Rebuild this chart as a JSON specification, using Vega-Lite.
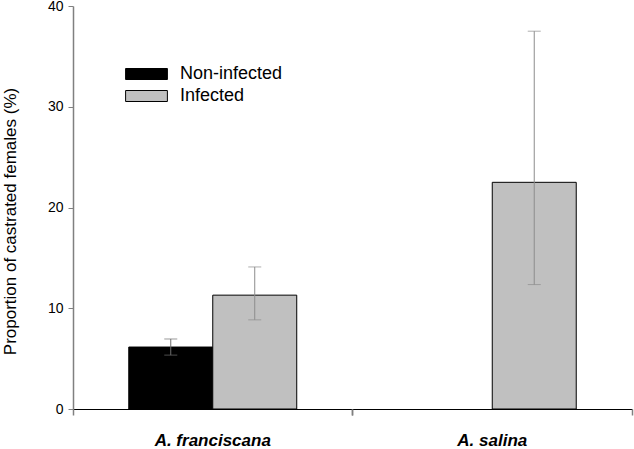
{
  "$schema": "https://vega.github.io/schema/vega-lite/v6.json",
  "width": 559,
  "height": 403,
  "autosize": {"type": "none"},
  "padding": {"left": 73, "top": 6, "right": 2, "bottom": 40},
  "config": {
    "view": {"stroke": null},
    "font": "Liberation Sans"
  },
  "data": {
    "values": [
      {"species": "A. franciscana", "status": "Non-infected", "value": 6.15, "lo": 5.35, "hi": 6.95},
      {"species": "A. franciscana", "status": "Infected", "value": 11.3, "lo": 8.85, "hi": 14.1},
      {"species": "A. salina", "status": "Infected", "value": 22.5, "lo": 12.35, "hi": 37.5}
    ]
  },
  "resolve": {"axis": {"x": "independent"}},
  "layer": [
    {
      "mark": {"type": "bar", "stroke": "black", "strokeWidth": 1},
      "encoding": {
        "x": {
          "field": "species", "type": "nominal",
          "scale": {"domain": ["A. franciscana", "A. salina"], "paddingInner": 0, "paddingOuter": 0},
          "axis": {
            "orient": "bottom", "title": null, "ticks": false, "tickSize": 0,
            "domainColor": "black", "domainWidth": 1,
            "labelAngle": 0, "labelFont": "Liberation Sans", "labelFontSize": 17,
            "labelFontWeight": "bold", "labelFontStyle": "italic", "labelColor": "black",
            "labelBaseline": "alphabetic", "labelPadding": 36
          }
        },
        "xOffset": {
          "field": "status", "type": "nominal",
          "scale": {"domain": ["Non-infected", "Infected"], "paddingInner": 0, "paddingOuter": 0.664}
        },
        "y": {
          "field": "value", "type": "quantitative",
          "scale": {"domain": [0, 40], "nice": false},
          "axis": {
            "title": "Proportion of castrated females (%)",
            "values": [0, 10, 20, 30, 40],
            "grid": false,
            "domainColor": "#808080", "domainWidth": 1.5,
            "tickColor": "#808080", "tickSize": 5, "tickWidth": 1,
            "labelFont": "Liberation Sans", "labelFontSize": 14, "labelColor": "black", "labelPadding": 5,
            "titleFont": "Liberation Sans", "titleFontSize": 17, "titleFontWeight": "normal", "titleColor": "black",
            "titleX": -63, "titleY": 215, "titleAngle": -90, "titleBaseline": "middle", "titleAlign": "center"
          }
        },
        "color": {
          "field": "status", "type": "nominal",
          "scale": {"domain": ["Non-infected", "Infected"], "range": ["black", "#c0c0c0"]},
          "legend": {
            "title": null,
            "orient": "none",
            "legendX": 64.5,
            "legendY": 59,
            "padding": 0,
            "symbolType": "M-3.8,-1H3.8V1H-3.8Z",
            "symbolSize": 121,
            "symbolStrokeColor": "black",
            "symbolStrokeWidth": 1,
            "symbolOpacity": 1,
            "labelOffset": 24.5,
            "labelFont": "Liberation Sans",
            "labelFontSize": 18,
            "labelColor": "black",
            "rowPadding": 4
          }
        }
      }
    },
    {
      "mark": {"type": "rule", "strokeWidth": 1},
      "encoding": {
        "x": {
          "field": "species", "type": "nominal",
          "axis": {
            "orient": "bottom", "title": null, "labels": false, "domain": false,
            "bandPosition": 0, "ticks": true, "tickColor": "#808080", "tickSize": 6, "tickWidth": 1.5
          }
        },
        "xOffset": {"field": "status", "type": "nominal"},
        "y": {"field": "lo", "type": "quantitative"},
        "y2": {"field": "hi"},
        "stroke": {
          "condition": {"test": "datum.status === 'Non-infected'", "value": "#6e6e6e"},
          "value": "#8c8c8c"
        }
      }
    },
    {
      "transform": [{"fold": ["lo", "hi"], "as": ["bound", "level"]}],
      "mark": {"type": "tick", "orient": "horizontal", "size": 13, "thickness": 1},
      "encoding": {
        "x": {
          "field": "species", "type": "nominal",
          "axis": {
            "orient": "bottom", "title": null, "labels": false, "domain": false,
            "bandPosition": 1, "ticks": true, "tickColor": "#808080", "tickSize": 6, "tickWidth": 1.5
          }
        },
        "xOffset": {"field": "status", "type": "nominal"},
        "y": {"field": "level", "type": "quantitative"},
        "color": {
          "condition": {"test": "datum.status === 'Non-infected'", "value": "#6e6e6e"},
          "value": "#8c8c8c"
        }
      }
    }
  ]
}
